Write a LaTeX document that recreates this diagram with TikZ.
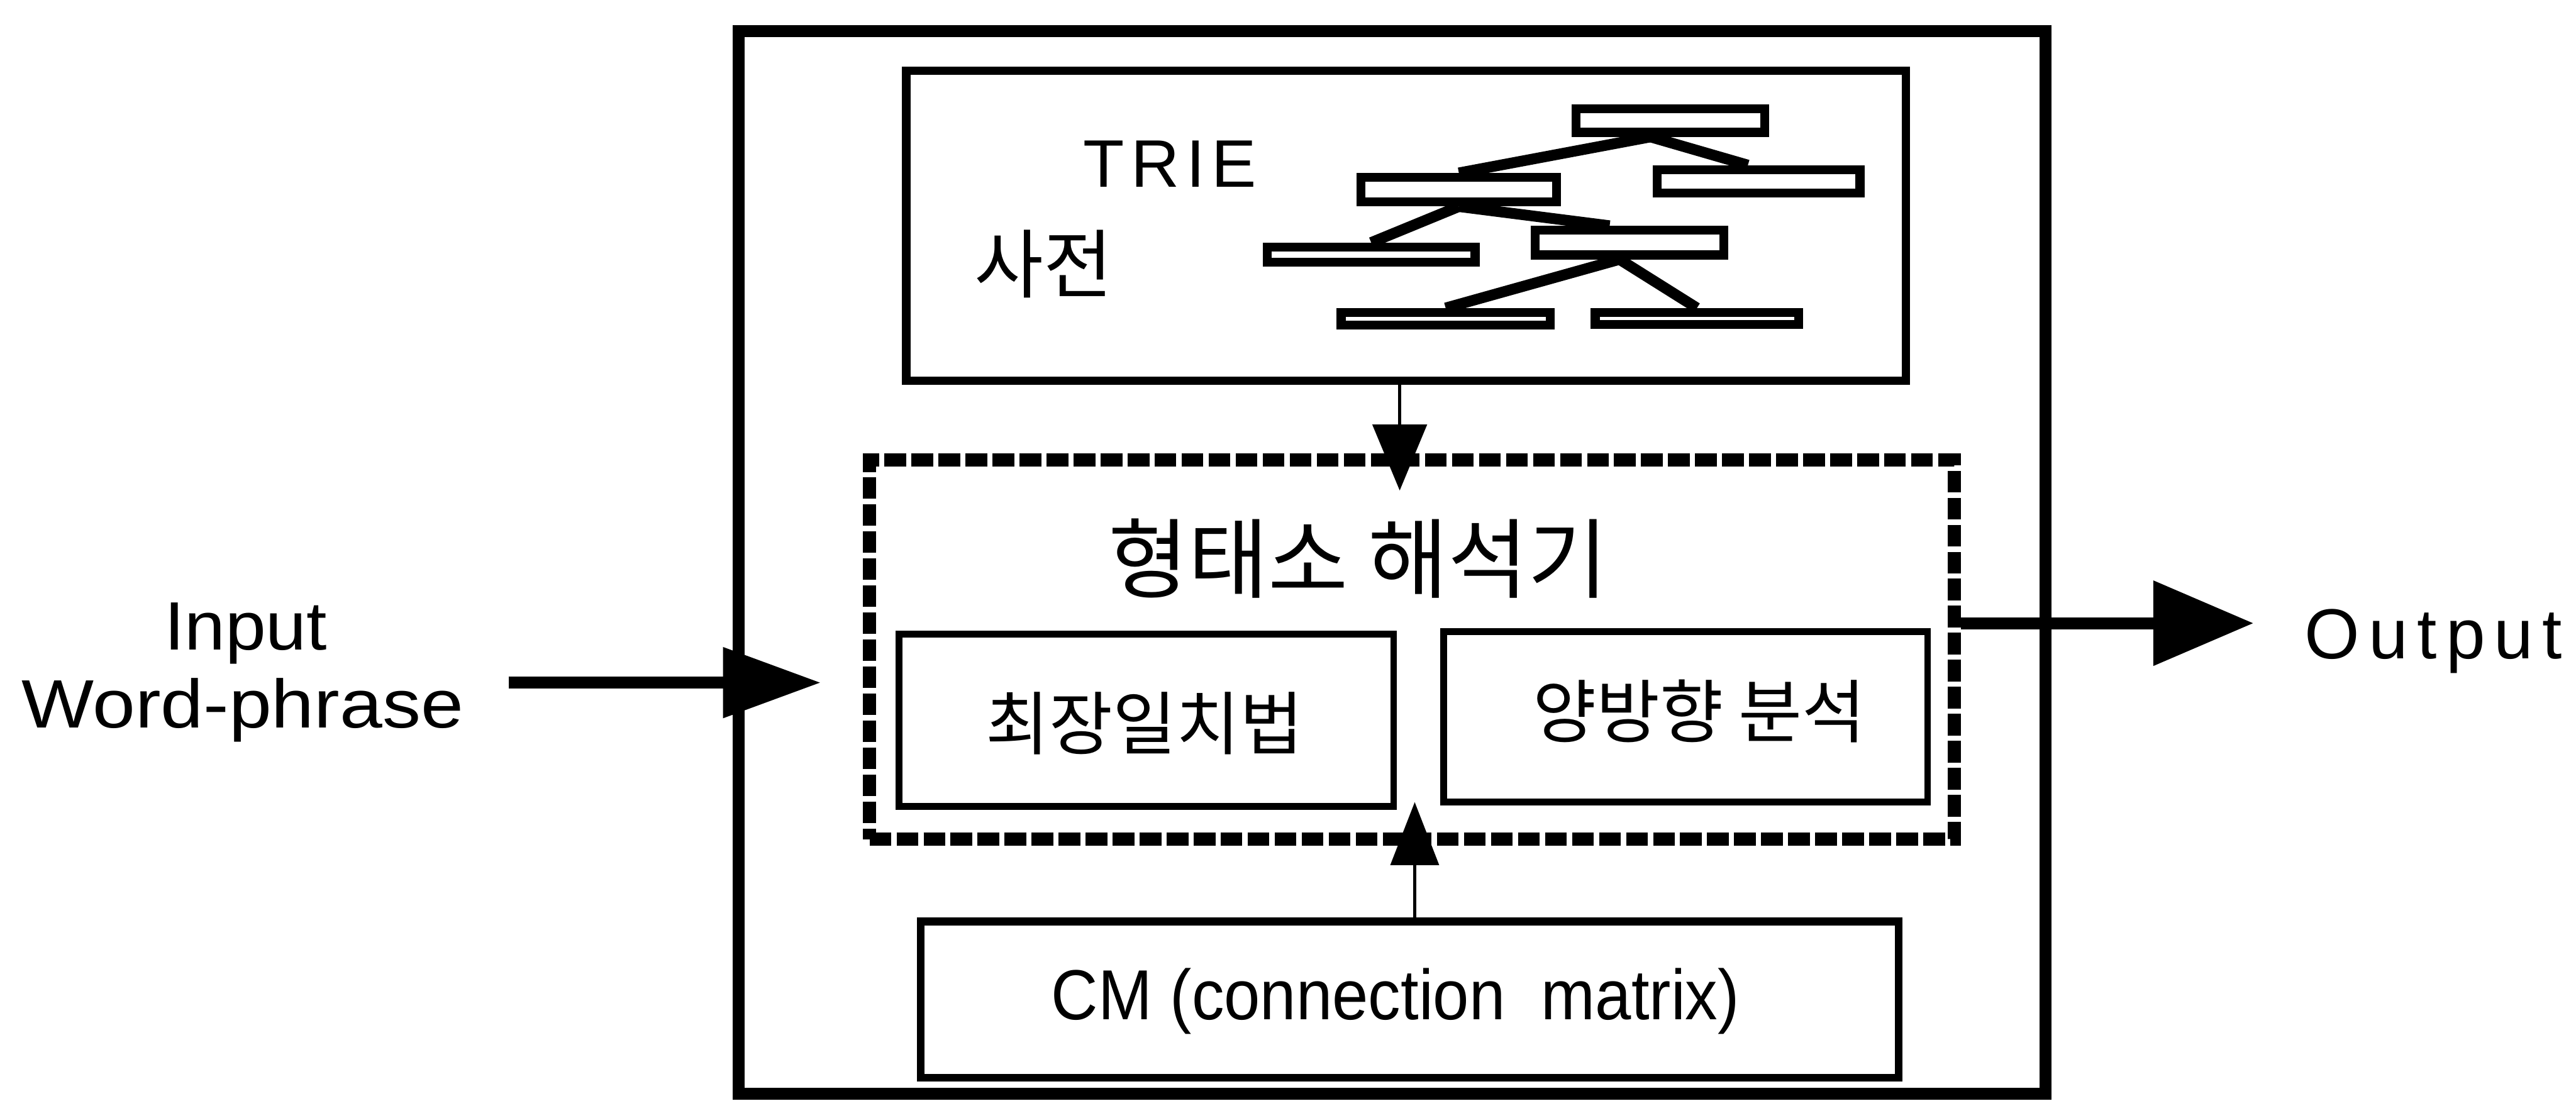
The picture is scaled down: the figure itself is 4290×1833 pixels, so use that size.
\documentclass[tikz,border=0pt]{standalone}
\usepackage{fontspec}
\setmainfont{Liberation Sans}
\newfontfamily\kr{Noto Sans CJK KR}
\usetikzlibrary{arrows.meta,calc}
\begin{document}
\begin{tikzpicture}[x=0.1pt,y=-0.1pt,
  bigbox/.style={draw, line width=2pt, rectangle, inner sep=0pt},
  triebox/.style={draw, line width=1.4pt, rectangle, inner sep=0pt},
  leaf/.style={draw, line width=1.5pt, rectangle, inner sep=0pt},
  branch/.style={line width=1.8pt},
  hatchbox/.style={draw, line width=2.2pt, dash pattern=on 3.6pt off 0.9pt, rectangle, inner sep=0pt},
  innerbox/.style={draw, line width=1.1pt, rectangle, inner sep=0pt},
  cmbox/.style={draw, line width=1.3pt, rectangle, inner sep=0pt},
  lbl/.style={inner sep=0pt, font=\fontsize{11.4pt}{13pt}\selectfont},
  krlbl/.style={inner sep=0pt},
  thin/.style={line width=0.6pt},
  thick/.style={line width=2pt}
]
\useasboundingbox (0,0) rectangle (4290,1833);

% outer frame
\node[bigbox, minimum width=217.7pt, minimum height=177pt] (outer) at (2318.5,937) {};

% TRIE dictionary box
\node[triebox, minimum width=166.5pt, minimum height=51.6pt] (trie) at (2341.5,376) {};
\node[inner sep=0pt, anchor=base west, font=\fontsize{11.2pt}{13pt}\selectfont\addfontfeature{LetterSpace=10}] (trietxt) at (1802,312) {TRIE};
\node[krlbl, font=\kr\fontsize{12.5pt}{14pt}\selectfont] (sajeon) at (1738,440) {사전};

% tree
\node[leaf, minimum width=31.4pt, minimum height=3.9pt] (t1) at (2781.5,201) {};
\node[leaf, minimum width=33.8pt, minimum height=3.9pt] (t2) at (2928.5,302) {};
\node[leaf, minimum width=32.6pt, minimum height=4.1pt] (t3) at (2429.5,316) {};
\node[leaf, minimum width=34.6pt, minimum height=2.5pt] (t4) at (2283.5,424) {};
\node[leaf, minimum width=31.4pt, minimum height=4.1pt] (t5) at (2713.5,404) {};
\node[leaf, minimum width=34.8pt, minimum height=2.1pt] (t6) at (2407.5,531) {};
\node[leaf, minimum width=33.9pt, minimum height=2.0pt] (t7) at (2826,530.5) {};
\draw[branch] ($(t1.south west)!0.4!(t1.south east)$) -- (t3.north);
\draw[branch] ($(t1.south west)!0.4!(t1.south east)$) -- ($(t2.north west)!0.45!(t2.north east)$);
\draw[branch] (t3.south) -- (t4.north);
\draw[branch] (t3.south) -- ($(t5.north west)!0.4!(t5.north east)$);
\draw[branch] ($(t5.south west)!0.45!(t5.south east)$) -- (t6.north);
\draw[branch] ($(t5.south west)!0.45!(t5.south east)$) -- (t7.north);

% morphological analyser box
\node[hatchbox, minimum width=180.7pt, minimum height=63.2pt] (anal) at (2351.5,1082) {};
\node[krlbl, font=\kr\fontsize{14.5pt}{16pt}\selectfont] (analtxt) at (2262,930) {형태소 해석기};
\node[innerbox, minimum width=82.4pt, minimum height=28.7pt] (lm) at (1909,1199.5) {};
\node[krlbl, font=\kr\fontsize{11.5pt}{13pt}\selectfont] (lmtxt) at (1906,1205) {최장일치법};
\node[innerbox, minimum width=80.6pt, minimum height=28.4pt] (bd) at (2807,1194) {};
\node[krlbl, font=\kr\fontsize{11.5pt}{13pt}\selectfont] (bdtxt) at (2830,1185) {양방향 분석};

% CM box
\node[cmbox, minimum width=162.9pt, minimum height=26pt] (cm) at (2347.5,1665) {};
\node[inner sep=0pt, font=\fontsize{11.8pt}{13pt}\selectfont] (cmtxt) at (2324,1668) {\scalebox{0.915}[1]{CM (connection \ matrix)}};

% input / output labels
\node[lbl, anchor=base] (in1) at (409,1082) {\scalebox{1.07}[1]{Input}};
\node[lbl, anchor=base] (in2) at (404,1212) {\scalebox{1.12}[1]{Word-phrase}};
\node[inner sep=0pt, anchor=base west, font=\fontsize{11.8pt}{13pt}\selectfont\addfontfeature{LetterSpace=12.7}] (outtxt) at (3836,1097) {Output};

% connectors
\coordinate (instart) at (847,1137);
\coordinate (outtip) at (3753,1038);
\coordinate (a1tip) at (2331,817);
\coordinate (a2tip) at (2356,1336);
\draw[thick, -{Triangle[length=16.3pt,width=11.3pt]}, shorten >=7.0pt] (instart) -- (instart -| anal.west);
\draw[thick, -{Triangle[length=16.7pt,width=13.7pt]}] (outtip -| anal.east) -- (outtip);
\draw[thin, -{Triangle[length=11pt,width=9pt]}] (trie.south -| a1tip) -- (a1tip);
\draw[thin, -{Triangle[length=10.5pt,width=8pt]}] (cm.north -| a2tip) -- (a2tip);
\end{tikzpicture}
\end{document}
